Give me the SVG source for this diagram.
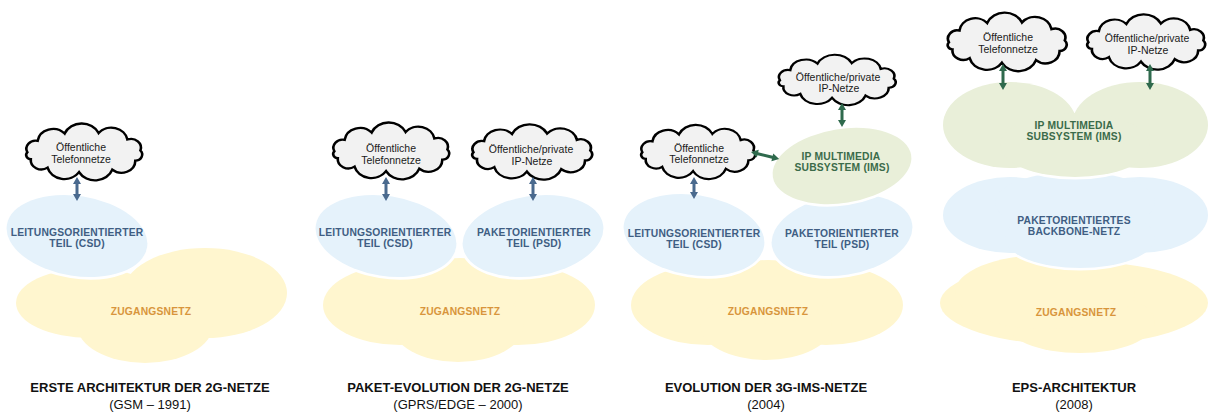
<svg xmlns="http://www.w3.org/2000/svg" xmlns:xlink="http://www.w3.org/1999/xlink" width="1212" height="414" viewBox="0 0 1212 414">
<style>
.cloud{fill:#f2f2f2;stroke:#000;stroke-width:2.2;vector-effect:non-scaling-stroke}
text{font-family:"Liberation Sans",Arial,sans-serif;text-anchor:middle}
.ct{font-size:10.5px;fill:#1a1a1a}
.lbl{font-weight:bold;font-size:10.3px;letter-spacing:0.2px}
.tb{fill:#3f5e83}.to{fill:#d8953c}.tg{fill:#3b6b4a}
.title{font-weight:bold;font-size:13px;fill:#111}
.sub{font-size:13px;fill:#111}
.halo{fill:#fff;stroke:#fff;stroke-width:5}
.fy{fill:#fff6cf}.fb{fill:#e5f2fb}.fg{fill:#e9efd9}
.ab{fill:#4a6a8e}.ag{fill:#2f6a4d}
</style>
<defs>
<path id="cloudP" d="M10,29 A7.7,7.7 0 0 1 18.7,18.1 A13.2,13.2 0 0 1 41.6,11.1 A15.8,15.8 0 0 1 70.4,10.6 A13.9,13.9 0 0 1 94.8,16.8 A8.4,8.4 0 0 1 105.8,27.3 A5.8,5.8 0 0 1 101.5,37 A11.7,11.7 0 0 1 82,45.5 A15.6,15.6 0 0 1 53.8,47.9 A14.9,14.9 0 0 1 27.1,43.6 A9,9 0 0 1 12.9,35.5 A3.9,3.9 0 0 1 10,29 Z"/>
<g id="y1"><ellipse cx="90" cy="303" rx="74" ry="35"/><ellipse cx="205" cy="293" rx="82" ry="45"/><ellipse cx="145" cy="325" rx="68" ry="38"/></g>
<g id="y2"><ellipse cx="400" cy="305" rx="77" ry="40"/><ellipse cx="518" cy="305" rx="77" ry="40"/><ellipse cx="458" cy="325" rx="66" ry="37"/><ellipse cx="460" cy="290" rx="60" ry="32"/></g>
<g id="y3"><ellipse cx="708" cy="305" rx="77" ry="40"/><ellipse cx="826" cy="305" rx="77" ry="40"/><ellipse cx="766" cy="325" rx="66" ry="35"/><ellipse cx="768" cy="292" rx="60" ry="32"/></g>
<g id="y4"><ellipse cx="1074" cy="303" rx="134" ry="42"/><ellipse cx="1080" cy="322" rx="75" ry="31"/><ellipse cx="1045" cy="292" rx="90" ry="37"/></g>
<g id="b4"><ellipse cx="1010" cy="215" rx="67" ry="38"/><ellipse cx="1140" cy="215" rx="68" ry="38"/><ellipse cx="1080" cy="238" rx="75" ry="30"/><ellipse cx="1075" cy="202" rx="80" ry="30"/></g>
<g id="g4"><ellipse cx="1010" cy="125" rx="67" ry="43"/><ellipse cx="1140" cy="125" rx="68" ry="43"/><ellipse cx="1075" cy="145" rx="75" ry="32"/></g>
<ellipse id="eL" cx="0" cy="0" rx="71" ry="40" transform="rotate(9)"/>
<ellipse id="eR" cx="0" cy="0" rx="71" ry="40" transform="rotate(-9)"/>
<ellipse id="eI" cx="0" cy="0" rx="70" ry="37" transform="rotate(-9)"/>
</defs>

<!-- Panel 1 -->
<g id="p1-access">
<use xlink:href="#y1" class="fy"/>
<text class="lbl to" x="151" y="315">ZUGANGSNETZ</text>
</g>
<g id="p1-csd">
<use xlink:href="#eL" x="77" y="236" class="halo"/>
<use xlink:href="#eL" x="77" y="236" class="fb"/>
<text class="lbl tb" x="77" y="236">LEITUNGSORIENTIERTER</text>
<text class="lbl tb" x="77" y="247">TEIL (CSD)</text>
</g>
<g id="p1-pstn">
<use xlink:href="#cloudP" class="cloud" transform="translate(84,152) scale(1.18,1.05) translate(-58,-28.7)"/>
<text class="ct" x="81" y="151">Öffentliche</text>
<text class="ct" x="81" y="163">Telefonnetze</text>
</g>
<g id="p1-title">
<text class="title" x="150" y="392">ERSTE ARCHITEKTUR DER 2G-NETZE</text>
<text class="sub" x="150" y="409">(GSM – 1991)</text>
</g>

<!-- Panel 2 -->
<g id="p2-access">
<use xlink:href="#y2" class="fy"/>
<text class="lbl to" x="460" y="315">ZUGANGSNETZ</text>
</g>
<g id="p2-csd">
<use xlink:href="#eL" x="386" y="236" class="halo"/>
<use xlink:href="#eL" x="386" y="236" class="fb"/>
<text class="lbl tb" x="385" y="236">LEITUNGSORIENTIERTER</text>
<text class="lbl tb" x="385" y="247">TEIL (CSD)</text>
</g>
<g id="p2-psd">
<use xlink:href="#eR" x="533" y="236" class="halo"/>
<use xlink:href="#eR" x="533" y="236" class="fb"/>
<text class="lbl tb" x="534" y="236">PAKETORIENTIERTER</text>
<text class="lbl tb" x="534" y="247">TEIL (PSD)</text>
</g>
<g id="p2-pstn">
<use xlink:href="#cloudP" class="cloud" transform="translate(391,151) scale(1.18,1.05) translate(-58,-28.7)"/>
<text class="ct" x="391" y="152">Öffentliche</text>
<text class="ct" x="391" y="163.5">Telefonnetze</text>
</g>
<g id="p2-ip">
<use xlink:href="#cloudP" class="cloud" transform="translate(532,152) scale(1.22,1.02) translate(-58,-28.7)"/>
<text class="ct" x="531" y="152.5">Öffentliche/private</text>
<text class="ct" x="532" y="165">IP-Netze</text>
</g>
<g id="p2-title">
<text class="title" x="458" y="392">PAKET-EVOLUTION DER 2G-NETZE</text>
<text class="sub" x="458" y="409">(GPRS/EDGE – 2000)</text>
</g>

<!-- Panel 3 -->
<g id="p3-access">
<use xlink:href="#y3" class="fy"/>
<text class="lbl to" x="768" y="315">ZUGANGSNETZ</text>
</g>
<g id="p3-csd">
<use xlink:href="#eL" x="694" y="235" class="halo"/>
<use xlink:href="#eL" x="694" y="235" class="fb"/>
<text class="lbl tb" x="694" y="237">LEITUNGSORIENTIERTER</text>
<text class="lbl tb" x="694" y="248">TEIL (CSD)</text>
</g>
<g id="p3-psd">
<use xlink:href="#eR" x="842" y="235" class="halo"/>
<use xlink:href="#eR" x="842" y="235" class="fb"/>
<text class="lbl tb" x="842" y="237">PAKETORIENTIERTER</text>
<text class="lbl tb" x="842" y="248">TEIL (PSD)</text>
</g>
<g id="p3-ims">
<use xlink:href="#eI" x="842" y="166" class="halo"/>
<use xlink:href="#eI" x="842" y="166" class="fg"/>
<text class="lbl tg" x="841" y="159.5">IP MULTIMEDIA</text>
<text class="lbl tg" x="842" y="170.5">SUBSYSTEM (IMS)</text>
</g>
<g id="p3-pstn">
<use xlink:href="#cloudP" class="cloud" transform="translate(698,152) scale(1.16,1.0) translate(-58,-28.7)"/>
<text class="ct" x="699" y="151.5">Öffentliche</text>
<text class="ct" x="699" y="163">Telefonnetze</text>
</g>
<g id="p3-ip">
<use xlink:href="#cloudP" class="cloud" transform="translate(837,80) scale(1.19,0.93) translate(-58,-28.7)"/>
<text class="ct" x="838" y="80.5">Öffentliche/private</text>
<text class="ct" x="839" y="92">IP-Netze</text>
</g>
<g id="p3-title">
<text class="title" x="766" y="392">EVOLUTION DER 3G-IMS-NETZE</text>
<text class="sub" x="766" y="409">(2004)</text>
</g>

<!-- Panel 4 -->
<g id="p4-access">
<use xlink:href="#y4" class="fy"/>
<text class="lbl to" x="1076" y="316">ZUGANGSNETZ</text>
</g>
<g id="p4-backbone">
<use xlink:href="#b4" class="halo"/>
<use xlink:href="#b4" class="fb"/>
<text class="lbl tb" x="1074" y="223.5">PAKETORIENTIERTES</text>
<text class="lbl tb" x="1074" y="234.5">BACKBONE-NETZ</text>
</g>
<g id="p4-ims">
<use xlink:href="#g4" class="halo"/>
<use xlink:href="#g4" class="fg"/>
<text class="lbl tg" x="1074" y="128.5">IP MULTIMEDIA</text>
<text class="lbl tg" x="1074" y="139.5">SUBSYSTEM (IMS)</text>
</g>
<g id="p4-pstn">
<use xlink:href="#cloudP" class="cloud" transform="translate(1007,42) scale(1.21,1.08) translate(-58,-28.7)"/>
<text class="ct" x="1008" y="41">Öffentliche</text>
<text class="ct" x="1008" y="52.5">Telefonnetze</text>
</g>
<g id="p4-ip">
<use xlink:href="#cloudP" class="cloud" transform="translate(1146,42) scale(1.2,1.02) translate(-58,-28.7)"/>
<text class="ct" x="1147" y="42">Öffentliche/private</text>
<text class="ct" x="1148" y="54">IP-Netze</text>
</g>
<g id="p4-title">
<text class="title" x="1074" y="392">EPS-ARCHITEKTUR</text>
<text class="sub" x="1074" y="409">(2008)</text>
</g>

<g id="connectors">
<path class="ab" d="M77,177 L81,184 L78.5,184 L78.5,194 L81,194 L77,201 L73,194 L75.5,194 L75.5,184 L73,184 Z"/>
<path class="ab" d="M386,177 L390,184 L387.5,184 L387.5,194 L390,194 L386,201 L382,194 L384.5,194 L384.5,184 L382,184 Z"/>
<path class="ab" d="M533,177 L537,184 L534.5,184 L534.5,194 L537,194 L533,201 L529,194 L531.5,194 L531.5,184 L529,184 Z"/>
<path class="ab" d="M694,177 L698,184 L695.5,184 L695.5,192 L698,192 L694,199 L690,192 L692.5,192 L692.5,184 L690,184 Z"/>
<path class="ag" d="M842,103 L846,110 L843.5,110 L843.5,120 L846,120 L842,127 L838,120 L840.5,120 L840.5,110 L838,110 Z"/>
<path class="ag" transform="translate(751,152) rotate(14)" d="M0,0 L7,-4 L7,-1.5 L22,-1.5 L22,-4 L29,0 L22,4 L22,1.5 L7,1.5 L7,4 Z"/>
<path class="ag" d="M1003,64 L1007,71 L1004.5,71 L1004.5,83 L1007,83 L1003,90 L999,83 L1001.5,83 L1001.5,71 L999,71 Z"/>
<path class="ag" d="M1150,64 L1154,71 L1151.5,71 L1151.5,83 L1154,83 L1150,90 L1146,83 L1148.5,83 L1148.5,71 L1146,71 Z"/>
</g>
</svg>
